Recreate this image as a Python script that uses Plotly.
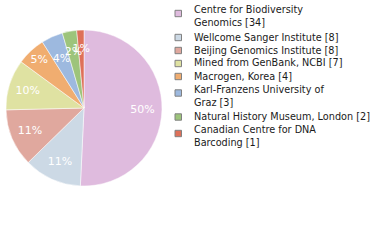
import plotly.graph_objects as go

labels = ["Centre for Biodiversity<br>Genomics [34]", "Wellcome Sanger Institute [8]",
          "Beijing Genomics Institute [8]", "Mined from GenBank, NCBI [7]",
          "Macrogen, Korea [4]", "Karl-Franzens University of<br>Graz [3]",
          "Natural History Museum, London [2]", "Canadian Centre for DNA<br>Barcoding [1]"]
values = [34, 8, 8, 7, 4, 3, 2, 1]
colors = ["#DFBBDE", "#CCD9E5", "#E0A89E", "#DFE2A2", "#F0AD70", "#9DB9DF", "#9DC47B", "#DE7059"]

W, H = 380, 240
total = sum(values)
pct_text = [f"{int(v * 100 / total)}%" for v in values]
big_text = [t if v >= 4 else "" for t, v in zip(pct_text, values)]
small_text = [t if v < 4 else "" for t, v in zip(pct_text, values)]

cx, cy, r = 84, 108, 78


def domain(rad):
    return dict(x=[(cx - rad) / W, (cx + rad) / W], y=[1 - (cy + rad) / H, 1 - (cy - rad) / H])


fig = go.Figure()
fig.add_trace(go.Pie(
    labels=labels, values=values, textinfo="none",
    sort=False, direction="clockwise", rotation=0,
    marker=dict(colors=colors, line=dict(color="white", width=0.5)),
    domain=domain(r), hoverinfo="none", showlegend=False,
))
for txt, hole, rad in ((big_text, 0.5, r), (small_text, 0, r * 0.8)):
    fig.add_trace(go.Pie(
        labels=labels, values=values, text=txt, textinfo="text",
        sort=False, direction="clockwise", rotation=0, hole=hole,
        marker=dict(colors=["rgba(0,0,0,0)"] * len(values), line=dict(width=0)),
        textposition="inside", insidetextorientation="horizontal",
        insidetextfont=dict(color="white", size=11, family="DejaVu Sans"),
        domain=domain(rad), hoverinfo="none", showlegend=False,
    ))

shapes, annotations = [], []
y = 9.5
for lab, col in zip(labels, colors):
    n = lab.count("<br>") + 1
    sq = y + (0.5 if n == 1 else 4)
    shapes.append(dict(type="rect", xref="paper", yref="paper",
                       x0=175 / W, x1=181.5 / W, y0=1 - (sq - 3.2) / H, y1=1 - (sq + 3.2) / H,
                       fillcolor=col, line=dict(color="#808080", width=1)))
    annotations.append(dict(xref="paper", yref="paper", x=192 / W, y=1 - (y - 7.5) / H,
                            xanchor="left", yanchor="top", align="left", showarrow=False,
                            text=lab, font=dict(family="DejaVu Sans", size=9.7, color="#1a1a1a")))
    y += 13 * n + 1.5 * (n - 1)

fig.update_layout(
    width=W, height=H, margin=dict(l=0, r=0, t=0, b=0),
    paper_bgcolor="white", plot_bgcolor="white",
    showlegend=False, shapes=shapes, annotations=annotations,
    uniformtext=dict(minsize=11, mode="show"),
)
fig.write_html("out.html")
